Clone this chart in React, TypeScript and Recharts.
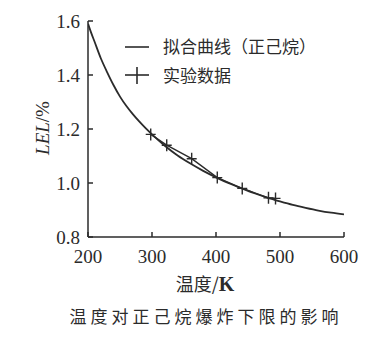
import { ComposedChart, Line, XAxis, YAxis, Label } from 'recharts'

// fitted curve for n-hexane
const fitTemps = [200, 205, 210, 220, 230, 240, 250, 260, 270, 280, 290, 300, 320, 340, 360, 380, 400, 420, 440, 460, 480, 500, 520, 540, 560, 580, 600]
const fitLel = [1.59, 1.556, 1.525, 1.462, 1.41, 1.362, 1.32, 1.285, 1.255, 1.228, 1.203, 1.18, 1.138, 1.102, 1.072, 1.045, 1.021, 0.999, 0.98, 0.962, 0.946, 0.932, 0.919, 0.908, 0.898, 0.89, 0.884]

// experimental points
const expTemps = [298, 323, 362, 402, 441, 482, 493]
const expLel = [1.18, 1.14, 1.09, 1.02, 0.98, 0.945, 0.943]

const xTicks = [200, 300, 400, 500, 600]
const yTicks = [0.8, 1.0, 1.2, 1.4, 1.6]

const fitData = fitTemps.map((t, i) => ({ t, lel: fitLel[i] }))
const expData = expTemps.map((t, i) => ({ t, lel: expLel[i] }))

const INK = '#2b2b2b'
const SERIF = '"Liberation Serif", "DejaVu Serif", serif'
const CJK = '"Noto Sans CJK SC", sans-serif'

const PlusDot = (props: any) => {
  const { cx, cy, index } = props
  if (cx == null || cy == null) return <g key={index} />
  return (
    <path
      key={index}
      d={`M${cx - 5},${cy} L${cx + 5},${cy} M${cx},${cy - 6} L${cx},${cy + 6}`}
      stroke={INK}
      strokeWidth={1.4}
      fill="none"
    />
  )
}

const YLabel = (props: any) => {
  const { viewBox } = props
  const cx = 42
  const cy = viewBox.y + viewBox.height / 2 - 1
  return (
    <text
      x={cx}
      y={cy}
      transform={`rotate(-90, ${cx}, ${cy})`}
      textAnchor="middle"
      dominantBaseline="central"
      fill={INK}
      fontFamily={SERIF}
      fontSize={19}
    >
      <tspan fontStyle="italic">LEL</tspan>
      <tspan>/%</tspan>
    </text>
  )
}

export default function App() {
  return (
    <div style={{ position: 'absolute', left: 0, top: 0, width: 387, height: 348, background: '#fff' }}>
      <ComposedChart width={387} height={348} margin={{ top: 21, right: 43, left: 0, bottom: 81 }}>
        <XAxis
          type="number"
          dataKey="t"
          domain={[200, 600]}
          ticks={xTicks}
          interval={0}
          height={30}
          stroke={INK}
          strokeWidth={1.5}
          tickSize={-5}
          tickMargin={18}
          tick={{ fill: INK, fontSize: 19, fontFamily: SERIF }}
          allowDataOverflow
        />
        <YAxis
          type="number"
          domain={[0.8, 1.6]}
          ticks={yTicks}
          interval={0}
          width={88}
          stroke={INK}
          strokeWidth={1.5}
          tickSize={-5}
          tickMargin={13}
          tickFormatter={(v: number) => v.toFixed(1)}
          tick={{ fill: INK, fontSize: 19, fontFamily: SERIF }}
          allowDataOverflow
        >
          <Label content={<YLabel />} />
        </YAxis>
        <Line
          data={fitData}
          dataKey="lel"
          type="monotone"
          stroke={INK}
          strokeWidth={1.8}
          dot={false}
          isAnimationActive={false}
        />
        <Line
          data={expData}
          dataKey="lel"
          type="linear"
          stroke={INK}
          strokeWidth={1.4}
          dot={PlusDot}
          isAnimationActive={false}
        />
      </ComposedChart>

      {/* legend */}
      <div style={{ position: 'absolute', left: 124, top: 31, fontFamily: CJK, fontSize: 17, color: INK, lineHeight: '29px' }}>
        <div style={{ display: 'flex', alignItems: 'center' }}>
          <svg width={26} height={20}>
            <line x1={1} y1={11} x2={25} y2={11} stroke={INK} strokeWidth={1.6} />
          </svg>
          <span style={{ marginLeft: 13 }}>拟合曲线（正己烷）</span>
        </div>
        <div style={{ display: 'flex', alignItems: 'center' }}>
          <svg width={26} height={20}>
            <line x1={1} y1={10} x2={25} y2={10} stroke={INK} strokeWidth={1.6} />
            <line x1={13} y1={2} x2={13} y2={19} stroke={INK} strokeWidth={1.6} />
          </svg>
          <span style={{ marginLeft: 13 }}>实验数据</span>
        </div>
      </div>

      {/* axis title and caption */}
      <div style={{ position: 'absolute', left: 0, width: 410, top: 270, textAlign: 'center', fontFamily: CJK, fontSize: 18, color: INK }}>
        温度/<span style={{ fontFamily: SERIF, fontWeight: 'bold', fontSize: 20 }}>K</span>
      </div>
      <div style={{ position: 'absolute', left: 0, width: 412, top: 303, textAlign: 'center', fontFamily: CJK, fontSize: 17, letterSpacing: 4, color: INK }}>
        温度对正己烷爆炸下限的影响
      </div>
    </div>
  )
}
